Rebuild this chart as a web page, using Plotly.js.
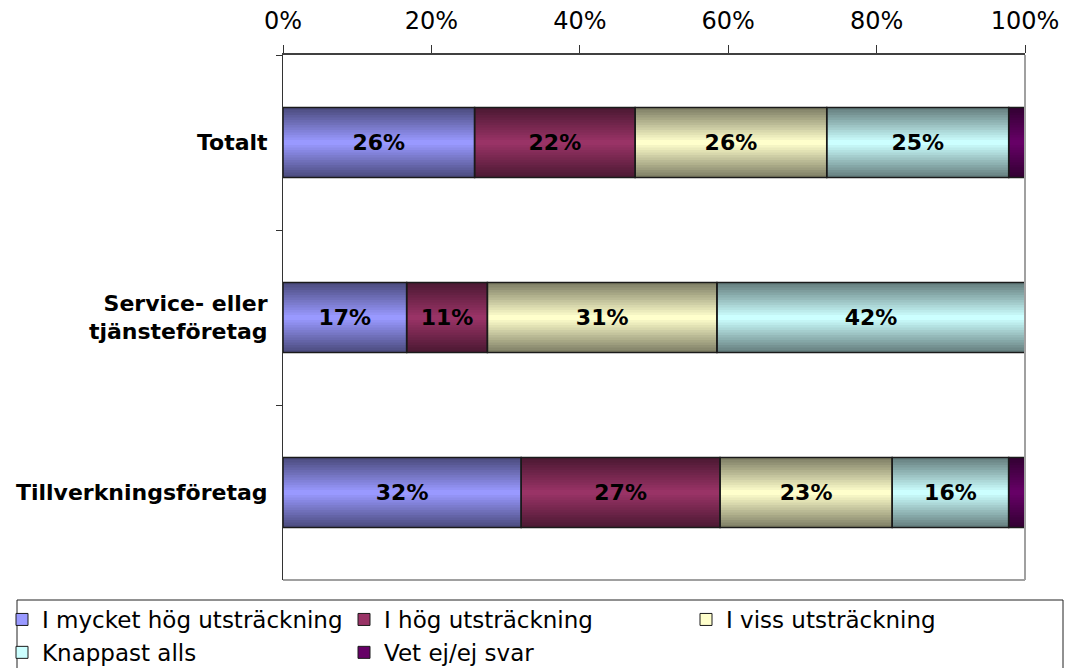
<!DOCTYPE html>
<html><head><meta charset="utf-8">
<script src="https://cdn.plot.ly/plotly-3.0.1.min.js"></script>
<style>html,body{margin:0;padding:0;background:#fff;}#chart{width:1066px;height:668px;}</style>
</head><body><div id="chart"></div>
<script>
// ---- data (percent of respondents) ----
const categories = ['Totalt', 'Service- eller<br>tjänsteföretag', 'Tillverkningsföretag'];
const seriesNames = ['I mycket hög utsträckning', 'I hög utsträckning', 'I viss utsträckning', 'Knappast alls', 'Vet ej/ej svar'];
const veryHigh = [25.9, 16.7, 32.1];
const high     = [21.7, 10.9, 26.8];
const some     = [25.9, 31.0, 23.2];
const hardly   = [24.6, 41.6, 15.7];
const dontKnow = [2.2, 0.0, 2.2];
const xTickVals = [0, 0.2, 0.4, 0.6, 0.8, 1.0];
const xTickText = ['0%', '20%', '40%', '60%', '80%', '100%'];

// ---- styles ----
const centerColors = ['#9999FF', '#993366', '#FFFFCC', '#CCFFFF', '#660066'];
const FONT = 'DejaVu Sans, Verdana, sans-serif';
const BAR_W = 0.4;
const LAYERS = 14;
const L = 283, R = 1025, T = 55, B = 580, W = 1066, H = 668;
const PW = R - L, PH = B - T;

const series = [veryHigh, high, some, hardly, dontKnow];
const totals = categories.map((c, i) => series.reduce((s, arr) => s + arr[i], 0));
const frac = series.map(arr => arr.map((v, i) => v / totals[i]));
const bases = series.map((arr, s) => arr.map((v, i) => {
  let b = 0; for (let k = 0; k < s; k++) b += frac[k][i]; return b;
}));

function hexToRgb(h) { return [1, 3, 5].map(i => parseInt(h.substr(i, 2), 16)); }
function mix(c, t) {
  const rgb = hexToRgb(c);
  return 'rgb(' + rgb.map(v => Math.round(v * (0.5 + 0.5 * t))).join(',') + ')';
}

const traces = [];
// gradient layers
for (let k = 0; k < LAYERS; k++) {
  const t = k / (LAYERS - 1);
  const w = BAR_W * (1 - k / LAYERS);
  series.forEach((arr, s) => {
    traces.push({
      type: 'bar', orientation: 'h',
      y: categories, x: frac[s], base: bases[s],
      width: categories.map(() => w),
      marker: { color: mix(centerColors[s], t), line: { width: 0 } },
      showlegend: false, hoverinfo: 'skip'
    });
  });
}
// outlines + labels
series.forEach((arr, s) => {
  traces.push({
    type: 'bar', orientation: 'h',
    y: categories, x: frac[s], base: bases[s],
    width: categories.map(() => BAR_W),
    marker: { color: 'rgba(0,0,0,0)', line: { color: '#1a1a1a', width: 1.5 } },
    text: arr.map(v => v >= 5 ? Math.round(v) + '%' : ''),
    textposition: 'inside', insidetextanchor: 'middle',
    insidetextfont: { family: FONT, size: 22, color: '#000', weight: 'bold' },
    constraintext: 'none',
    showlegend: false, hoverinfo: 'skip'
  });
});
// legend entries
series.forEach((arr, s) => {
  traces.push({
    type: 'bar', orientation: 'h', name: seriesNames[s],
    y: [categories[0]], x: [null],
    marker: { color: centerColors[s], line: { color: '#1a1a1a', width: 1 } },
    showlegend: true, legendrank: s + 1, hoverinfo: 'skip'
  });
});

const px = x => (x - L) / PW;
const py = y => (B - y) / PH;

const layout = {
  width: W, height: H,
  margin: { l: L, r: W - R, t: T, b: H - B, autoexpand: false },
  paper_bgcolor: '#fff', plot_bgcolor: '#fff',
  barmode: 'overlay',
  font: { family: FONT, color: '#000' },
  xaxis: {
    side: 'top', range: [0, 1], fixedrange: true,
    tickvals: xTickVals, ticktext: xTickText,
    ticks: 'outside', ticklen: 8, tickwidth: 1, tickcolor: '#333',
    ticklabelstandoff: 6,
    showline: true, linecolor: '#404040', linewidth: 2,
    showgrid: false, zeroline: false,
    tickfont: { family: FONT, size: 24, color: '#000' }
  },
  yaxis: {
    type: 'category', categoryorder: 'array', categoryarray: categories,
    range: [2.5, -0.5], fixedrange: true,
    tickson: 'boundaries', ticks: 'outside', ticklen: 6, tickcolor: '#333',
    ticklabelstandoff: 10,
    showline: true, linecolor: '#333', linewidth: 1,
    showgrid: false, zeroline: false,
    tickfont: { family: FONT, size: 22, color: '#000', weight: 'bold' }
  },
  shapes: [
    { type: 'line', xref: 'paper', yref: 'paper', x0: 0, x1: 1, y0: 0, y1: 0, line: { color: '#a0a0a0', width: 2 } },
    { type: 'line', xref: 'paper', yref: 'paper', x0: 1, x1: 1, y0: 0, y1: 1, line: { color: '#a0a0a0', width: 2 } },
    { type: 'rect', xref: 'paper', yref: 'paper', x0: px(17), x1: px(1063), y0: py(600), y1: py(720), line: { color: '#222', width: 1 }, fillcolor: 'rgba(0,0,0,0)' }
  ],
  legend: {
    orientation: 'h', x: px(2), xanchor: 'left', y: py(598), yanchor: 'top',
    font: { family: FONT, size: 23, color: '#000' },
    bgcolor: 'rgba(0,0,0,0)', borderwidth: 0,
    itemwidth: 30, entrywidth: 297, entrywidthmode: 'pixels',
    traceorder: 'normal'
  }
};

Plotly.newPlot('chart', traces, layout, { displayModeBar: false, staticPlot: true });
</script>
</body></html>
